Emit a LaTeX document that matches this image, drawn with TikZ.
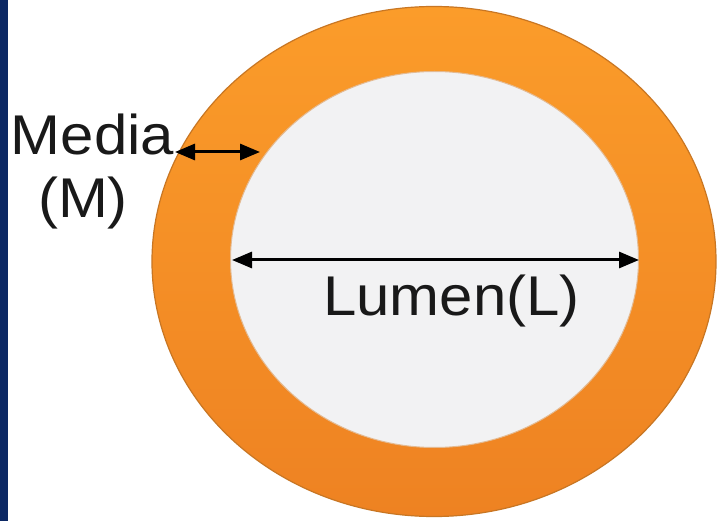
\documentclass[tikz,border=0pt]{standalone}
\usepackage{fontspec}
\setmainfont{Liberation Sans}[FakeStretch=1.07]
\usetikzlibrary{arrows.meta}
\definecolor{ringtop}{RGB}{251,156,42}
\definecolor{ringbot}{RGB}{238,130,34}
\definecolor{ringedge}{RGB}{200,118,35}
\definecolor{lumengray}{RGB}{242,242,243}
\definecolor{navyband}{RGB}{12,40,100}
\begin{document}
\begin{tikzpicture}[x=1pt,y=-1pt,
  lbl/.style={font=\fontsize{56}{60}\selectfont, inner sep=0pt, anchor=base, text=black!90},
  dim/.style={line width=3pt, {Triangle[length=20pt,width=16pt]}-{Triangle[length=20pt,width=16pt]}}]
\useasboundingbox (0,0) rectangle (717,521);
\fill[white] (0,0) rectangle (717,521);
\fill[navyband] (0,0) rectangle (8,521);
\draw[top color=ringtop, bottom color=ringbot, draw=ringedge, line width=1.2pt] (434,261.5) ellipse [x radius=282, y radius=255];
\draw[fill=lumengray, draw=ringedge!50!white, line width=1pt] (434.5,259.5) ellipse [x radius=204, y radius=188];
\coordinate (mA) at (175,152);
\coordinate (mB) at (260,152);
\coordinate (lA) at (232,260);
\coordinate (lB) at (639,260);
\draw[dim] (mA) -- (mB);
\draw[dim] (lA) -- (lB);
\node[lbl] (media) at (92.5,155) {Media};
\node[lbl] (mlabel) at (83,218) {(M)};
\node[lbl] (lumen) at (451.5,315) {Lumen(L)};
\end{tikzpicture}
\end{document}
